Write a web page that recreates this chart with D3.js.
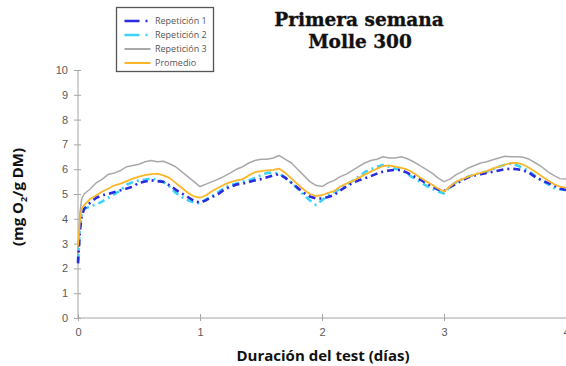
<!DOCTYPE html>
<html>
<head>
<meta charset="utf-8">
<script src="https://cdn.jsdelivr.net/npm/d3@7"></script>
<style>
  html, body { margin: 0; padding: 0; background: #fff; }
  svg { display: block; }
</style>
</head>
<body>
<svg id="chart" width="566" height="366"></svg>
<script>
// Test duration in days (shared sampling for all series)
const days = [0, 0.015, 0.03,
  0.05, 0.10, 0.15, 0.20, 0.25, 0.30, 0.35, 0.40, 0.45, 0.50,
  0.55, 0.60, 0.65, 0.70, 0.75, 0.80, 0.85, 0.90, 0.95, 1.00,
  1.05, 1.10, 1.15, 1.20, 1.25, 1.30, 1.35, 1.40, 1.45, 1.50,
  1.55, 1.60, 1.65, 1.70, 1.75, 1.80, 1.85, 1.90, 1.95, 2.00,
  2.05, 2.10, 2.15, 2.20, 2.25, 2.30, 2.35, 2.40, 2.45, 2.50,
  2.55, 2.60, 2.65, 2.70, 2.75, 2.80, 2.85, 2.90, 2.95, 3.00,
  3.05, 3.10, 3.15, 3.20, 3.25, 3.30, 3.35, 3.40, 3.45, 3.50,
  3.55, 3.60, 3.65, 3.70, 3.75, 3.80, 3.85, 3.90, 3.95, 4.00];

// Oxygen consumption, mg O2 / g DM
const repeticion1 = [2.2, 3.5, 4.1,
  4.40, 4.65, 4.85, 4.95, 5.00, 5.08, 5.15, 5.22, 5.30, 5.45,
  5.50, 5.55, 5.52, 5.49, 5.35, 5.18, 5.02, 4.88, 4.72, 4.65,
  4.75, 4.88, 5.00, 5.18, 5.30, 5.38, 5.42, 5.48, 5.55, 5.60,
  5.68, 5.75, 5.80, 5.65, 5.45, 5.25, 5.05, 4.90, 4.82, 4.82,
  4.88, 4.96, 5.15, 5.30, 5.45, 5.55, 5.63, 5.72, 5.82, 5.90,
  5.95, 5.97, 5.97, 5.85, 5.72, 5.60, 5.45, 5.32, 5.18, 5.12,
  5.28, 5.42, 5.55, 5.68, 5.75, 5.80, 5.85, 5.90, 5.95, 6.00,
  6.02, 6.00, 5.95, 5.85, 5.68, 5.55, 5.45, 5.35, 5.22, 5.16];

const repeticion2 = [2.3, 3.6, 4.2,
  4.40, 4.50, 4.58, 4.70, 4.85, 5.00, 5.15, 5.38, 5.48, 5.55,
  5.58, 5.62, 5.58, 5.49, 5.30, 5.05, 4.88, 4.75, 4.66, 4.62,
  4.78, 4.92, 5.08, 5.25, 5.35, 5.42, 5.50, 5.55, 5.65, 5.75,
  5.85, 5.85, 5.83, 5.65, 5.45, 5.22, 4.95, 4.75, 4.56, 4.75,
  4.95, 5.08, 5.22, 5.38, 5.52, 5.70, 5.88, 6.00, 6.10, 6.17,
  6.10, 6.02, 5.97, 5.80, 5.65, 5.50, 5.35, 5.22, 5.10, 5.02,
  5.30, 5.48, 5.60, 5.70, 5.78, 5.85, 5.90, 6.00, 6.10, 6.18,
  6.23, 6.15, 6.05, 5.90, 5.72, 5.56, 5.40, 5.25, 5.18, 5.16];

const repeticion3 = [2.5, 4.2, 4.8,
  5.00, 5.20, 5.45, 5.60, 5.80, 5.85, 5.95, 6.10, 6.15, 6.20,
  6.30, 6.35, 6.30, 6.32, 6.22, 6.10, 5.90, 5.70, 5.50, 5.30,
  5.40, 5.50, 5.60, 5.72, 5.85, 6.00, 6.10, 6.25, 6.35, 6.40,
  6.40, 6.45, 6.55, 6.40, 6.25, 6.00, 5.75, 5.50, 5.35, 5.30,
  5.45, 5.55, 5.70, 5.80, 5.95, 6.10, 6.25, 6.35, 6.40, 6.50,
  6.45, 6.45, 6.50, 6.42, 6.30, 6.15, 6.00, 5.85, 5.65, 5.50,
  5.60, 5.78, 5.90, 6.05, 6.15, 6.25, 6.30, 6.38, 6.45, 6.52,
  6.50, 6.50, 6.48, 6.40, 6.25, 6.10, 5.90, 5.75, 5.62, 5.60];

const promedio = [2.9, 3.9, 4.4,
  4.55, 4.80, 4.95, 5.10, 5.22, 5.35, 5.42, 5.52, 5.62, 5.70,
  5.76, 5.80, 5.82, 5.75, 5.65, 5.45, 5.25, 5.05, 4.90, 4.85,
  4.95, 5.12, 5.25, 5.38, 5.48, 5.55, 5.60, 5.75, 5.88, 5.92,
  5.95, 5.97, 6.02, 5.85, 5.62, 5.40, 5.18, 5.00, 4.92, 4.95,
  5.05, 5.12, 5.30, 5.42, 5.52, 5.65, 5.78, 5.90, 6.02, 6.12,
  6.15, 6.10, 6.05, 5.98, 5.85, 5.68, 5.52, 5.38, 5.22, 5.10,
  5.30, 5.50, 5.60, 5.70, 5.78, 5.85, 5.92, 6.02, 6.10, 6.18,
  6.25, 6.25, 6.18, 6.05, 5.90, 5.72, 5.55, 5.40, 5.30, 5.26];

const seriesNames = ["Repetición 1", "Repetición 2", "Repetición 3", "Promedio"];
const xTicks = [0, 1, 2, 3, 4];
const yTicks = [0, 1, 2, 3, 4, 5, 6, 7, 8, 9, 10];
const titleLines = ["Primera semana", "Molle 300"];

const series = [
  { name: seriesNames[0], values: repeticion1, color: "#2a2ae0", width: 2.6, dash: "7,4,2,4" },
  { name: seriesNames[1], values: repeticion2, color: "#3cd2f8", width: 2.6, dash: "7,4,2,4" },
  { name: seriesNames[2], values: repeticion3, color: "#a9a9a9", width: 1.5, dash: null },
  { name: seriesNames[3], values: promedio,    color: "#fbb62a", width: 1.8, dash: null }
];

const svg = d3.select("#chart");
const x = d3.scaleLinear().domain([0, 4]).range([78, 566]);
const y = d3.scaleLinear().domain([0, 10]).range([318, 70]);

// Y axis
const yAxis = svg.append("g")
  .attr("transform", `translate(${x(0)},0)`)
  .call(d3.axisLeft(y).tickValues(yTicks).tickSize(4).tickPadding(6));
yAxis.select(".domain").attr("stroke", "#a6a6a6").attr("d", `M0,${y(0)}V${y(10)}`);
yAxis.selectAll(".tick line").attr("stroke", "#a6a6a6").attr("x1", 3).attr("x2", -4);
yAxis.selectAll(".tick text")
  .attr("fill", "#5a5a5a")
  .style("font-family", "'Liberation Sans', Arial, sans-serif")
  .style("font-size", "11px");

// X axis
const xAxis = svg.append("g")
  .attr("transform", `translate(0,${y(0)})`)
  .call(d3.axisBottom(x).tickValues(xTicks).tickFormat(d3.format("d")).tickSize(3).tickPadding(7));
xAxis.select(".domain").attr("stroke", "#a6a6a6").attr("d", `M${x(0)},0H${x(4)}`);
xAxis.selectAll(".tick line").attr("stroke", "#a6a6a6").attr("y1", -4).attr("y2", 3);
xAxis.selectAll(".tick text")
  .attr("fill", "#5a5a5a")
  .style("font-family", "'Liberation Sans', Arial, sans-serif")
  .style("font-size", "11px");

// Series lines
const line = d3.line()
  .x((d, i) => x(days[i]))
  .y(d => y(d));

const drawOrder = [2, 1, 0, 3];
drawOrder.forEach(k => {
  const s = series[k];
  svg.append("path")
    .datum(s.values)
    .attr("fill", "none")
    .attr("stroke", s.color)
    .attr("stroke-width", s.width)
    .attr("stroke-linejoin", "round")
    .attr("stroke-dasharray", s.dash)
    .attr("d", line);
});

// Titles
const title = svg.append("g")
  .attr("font-family", "'DejaVu Serif', serif")
  .attr("font-weight", "bold")
  .attr("font-size", 18.5)
  .attr("fill", "#111")
  .attr("stroke", "#111")
  .attr("stroke-width", 0.35)
  .attr("text-anchor", "middle");
title.append("text").attr("x", 359).attr("y", 26).text(titleLines[0]);
title.append("text").attr("x", 360).attr("y", 48).text(titleLines[1]);

// Axis titles
svg.append("text")
  .attr("x", 323).attr("y", 361)
  .attr("text-anchor", "middle")
  .attr("font-family", "'Open Sans', sans-serif")
  .attr("font-weight", "bold")
  .attr("font-size", 15)
  .attr("fill", "#111")
  .text("Duración del test (días)");

const yTitle = svg.append("text")
  .attr("transform", "translate(23,197) rotate(-90)")
  .attr("text-anchor", "middle")
  .attr("font-family", "'Open Sans', sans-serif")
  .attr("font-weight", "bold")
  .attr("font-size", 15)
  .attr("fill", "#111");
yTitle.append("tspan").text("(mg O");
yTitle.append("tspan").attr("font-size", 9).attr("dy", 4).text("2");
yTitle.append("tspan").attr("dy", -4).text("/g DM)");

// Legend
const legend = svg.append("g").attr("transform", "translate(116.5,7.5)");
legend.append("rect")
  .attr("width", 97).attr("height", 64)
  .attr("fill", "#fff")
  .attr("stroke", "#555")
  .attr("stroke-width", 1.3);
series.forEach((s, i) => {
  const gy = 13.5 + i * 14;
  legend.append("line")
    .attr("x1", 8).attr("x2", s.dash ? 32 : 34)
    .attr("y1", gy).attr("y2", gy)
    .attr("stroke", s.color)
    .attr("stroke-width", s.dash ? 2.6 : 2)
    .attr("stroke-dasharray", s.dash ? "15,6,2,6" : null);
  legend.append("text")
    .attr("x", 38.5).attr("y", gy + 3.3)
    .attr("font-family", "'Open Sans', sans-serif")
    .attr("font-size", 9)
    .attr("fill", "#555")
    .text(s.name);
});
</script>
</body>
</html>
